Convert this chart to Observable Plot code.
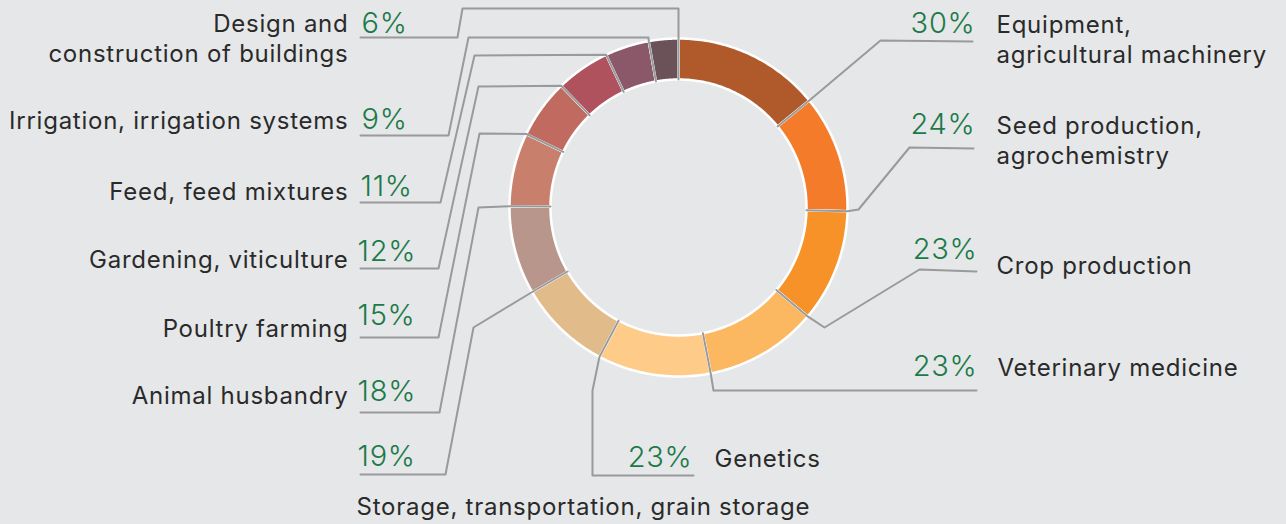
<!DOCTYPE html>
<html><head><meta charset="utf-8">
<script src="https://cdn.jsdelivr.net/npm/d3@7"></script>
<script src="https://cdn.jsdelivr.net/npm/@observablehq/plot@0.6"></script>
<style>
html,body{margin:0;padding:0;background:#e6e7e9;}
#chart svg{display:block}
#chart svg text{letter-spacing:0.75px}
</style></head><body><div id="chart"></div>
<script>
// ---- data ----
const categories = [
  "Equipment, agricultural machinery",
  "Seed production, agrochemistry",
  "Crop production",
  "Veterinary medicine",
  "Genetics",
  "Storage, transportation, grain storage",
  "Animal husbandry",
  "Poultry farming",
  "Gardening, viticulture",
  "Feed, feed mixtures",
  "Irrigation, irrigation systems",
  "Design and construction of buildings"
];
const values = [30, 24, 23, 23, 23, 19, 18, 15, 12, 11, 9, 6];
const labelLines = [
  ["Equipment,", "agricultural machinery"],
  ["Seed production,", "agrochemistry"],
  ["Crop production"],
  ["Veterinary medicine"],
  ["Genetics"],
  ["Storage, transportation, grain storage"],
  ["Animal husbandry"],
  ["Poultry farming"],
  ["Gardening, viticulture"],
  ["Feed, feed mixtures"],
  ["Irrigation, irrigation systems"],
  ["Design and", "construction of buildings"]
];
const colors = ["#b05a2c", "#f47b2a", "#f69228", "#fbb860", "#fecb88", "#e1bc8a",
                "#b8968c", "#c8806c", "#c06a60", "#b0525e", "#8a5868", "#6a5258"];

// ---- layout (positions only) ----
const W = 1286, H = 524, cx = 678, cy = 207, R = 169, r = 128;
const leaderElbows = [
  [[880,40],[972,41]],
  [[858,209],[909,147],[973,148]],
  [[824,327],[919,269],[976,271]],
  [[713,390],[976,390]],
  [[592,390],[592,475],[693,475]],
  [[473,327],[445,474],[360,474]],
  [[478,207],[439,412],[360,412]],
  [[479,133],[438,337],[360,337]],
  [[478,86],[438,268],[360,268]],
  [[474,55],[440,202],[360,202]],
  [[648,37],[468,37],[448,135],[360,135]],
  [[678,8],[462,8],[457,37],[360,37]]
];
// pct: [x, baseline, anchor]; label: [x, first baseline, anchor]
const pctPos = [
  [975,32,"end"],[975,133,"end"],[977,258,"end"],[977,375,"end"],[692,466,"end"],[357,465,"start"],
  [357,400,"start"],[357,324,"start"],[357,260,"start"],[360,195,"start"],[361,128,"start"],[361,32,"start"]
];
const labPos = [
  [996,32,"start"],[996,133,"start"],[996,273,"start"],[997,375,"start"],[714,466,"start"],[356,514,"start"],
  [348,403,"end"],[348,336,"end"],[348,267,"end"],[348,199,"end"],[348,128,"end"],[348,31,"end"]
];
const lineGap = 30;

// ---- build ----
const data = categories.map((c, i) => ({cat: c, value: values[i]}));
const arcs = d3.pie().sort(null).value(d => d.value).startAngle(0).endAngle(2 * Math.PI)(data);
const pt = (a, rho) => [cx + rho * Math.sin(a), cy - rho * Math.cos(a)];

const slicePts = [];
arcs.forEach(a => {
  const n = 60;
  for (let k = 0; k <= n; k++) {
    const t = a.startAngle + (a.endAngle - a.startAngle) * k / n;
    const [x, y] = pt(t, R); slicePts.push({cat: a.data.cat, x, y});
  }
  for (let k = n; k >= 0; k--) {
    const t = a.startAngle + (a.endAngle - a.startAngle) * k / n;
    const [x, y] = pt(t, r); slicePts.push({cat: a.data.cat, x, y});
  }
});

const leaderPts = [];
arcs.forEach((a, i) => {
  const pts = [pt(a.endAngle, r), pt(a.endAngle, R), ...leaderElbows[i]];
  pts.forEach(([x, y]) => leaderPts.push({cat: a.data.cat, x, y}));
});

const pctData = arcs.map((a, i) => ({text: a.data.value + "%", x: pctPos[i][0], y: pctPos[i][1], anchor: pctPos[i][2]}));
const labData = [];
labelLines.forEach((lines, i) => lines.forEach((t, j) =>
  labData.push({text: t, x: labPos[i][0], y: labPos[i][1] + j * lineGap, anchor: labPos[i][2]})));

const font = "Inter, 'Open Sans', sans-serif";
const chart = Plot.plot({
  width: W, height: H,
  margin: 0,
  x: {type: "identity", axis: null},
  y: {type: "identity", axis: null},
  color: {domain: categories, range: colors},
  style: {background: "#e6e7e9", fontFamily: font},
  marks: [
    Plot.line(slicePts, {x: "x", y: "y", z: "cat", fill: "cat", stroke: "white", strokeWidth: 2.5, curve: "linear-closed"}),
    Plot.line(leaderPts, {x: "x", y: "y", z: "cat", stroke: "#999a9c", strokeWidth: 2}),
    Plot.text(pctData.filter(d => d.anchor === "end"), {x: "x", y: "y", text: "text", textAnchor: "end", lineAnchor: "bottom", fill: "#1b7a48", fontSize: 29, fontWeight: 300, fontFamily: font}),
    Plot.text(pctData.filter(d => d.anchor === "start"), {x: "x", y: "y", text: "text", textAnchor: "start", lineAnchor: "bottom", fill: "#1b7a48", fontSize: 29, fontWeight: 300, fontFamily: font}),
    Plot.text(labData.filter(d => d.anchor === "end"), {x: "x", y: "y", text: "text", textAnchor: "end", lineAnchor: "bottom", fill: "#2a2a2a", fontSize: 24, fontFamily: font}),
    Plot.text(labData.filter(d => d.anchor === "start"), {x: "x", y: "y", text: "text", textAnchor: "start", lineAnchor: "bottom", fill: "#2a2a2a", fontSize: 24, fontFamily: font})
  ]
});
document.getElementById("chart").append(chart);
</script></body></html>
